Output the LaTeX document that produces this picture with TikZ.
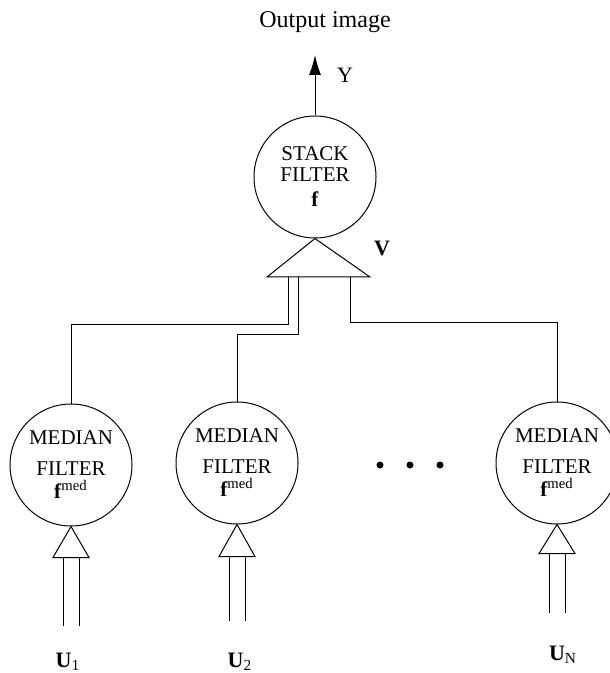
\documentclass[tikz,border=0pt]{standalone}
\usepackage{fontspec}
\setmainfont{Liberation Serif}
\usetikzlibrary{arrows.meta}
\begin{document}
\begin{tikzpicture}[x=0.5pt,y=-0.5pt,line width=0.5pt,font=\fontsize{11}{13}\selectfont]
        \tikzstyle{every node}+=[inner sep=0pt]
        \tikzstyle{filt}=[draw,circle,minimum size=61pt,align=center,font=\fontsize{10.5}{10.5}\selectfont]
        \useasboundingbox (0,0) rectangle (609,673);
        % stack filter and output
        \draw (325,22) node (title) {\fontsize{12}{14}\selectfont Output image};
        \draw (315,177) node [filt] (stack) {STACK\\FILTER\\[2pt]\textbf{f}};
        \coordinate (out) at (315,55);
        \draw [-{Latex[length=10pt,width=6pt]}] (stack.north) -- (out);
        \draw (345,75) node {Y};
        \coordinate (vl) at (267,277);
        \coordinate (vr) at (370,277);
        \draw (stack.south) -- (vr) -- (vl) -- cycle;
        \draw (382,248) node {\textbf{V}};
        % median filters
        \draw (71,465) node [filt] (med1) {MEDIAN\\[5pt]FILTER\\[1pt]\textbf{f}\textsuperscript{med}};
        \draw (237,463) node [filt] (med2) {MEDIAN\\[5pt]FILTER\\[1pt]\textbf{f}\textsuperscript{med}};
        \draw (557,463) node [filt] (medN) {MEDIAN\\[5pt]FILTER\\[1pt]\textbf{f}\textsuperscript{med}};
        \fill (380,465) circle (3.5);
        \fill (410,465) circle (3.5);
        \fill (440,465) circle (3.5);
        % branches into V
        \coordinate (b1) at (288,277);
        \coordinate (b2) at (298,277);
        \coordinate (b3) at (350,277);
        \coordinate (k1) at (288,324);
        \coordinate (k2) at (298,334);
        \coordinate (k3) at (350,322);
        \draw (b1) -- (k1) -| (med1.north);
        \draw (b2) -- (k2) -| (med2.north);
        \draw (b3) -- (k3) -| (medN.north);
        % inputs
        \draw (med1.south) -- ++(18,31) -- ++(-36,0) -- cycle;
        \draw ([shift={(-8,31)}]med1.south) -- ++(0,68);
        \draw ([shift={(8,31)}]med1.south) -- ++(0,68);
        \draw (med2.south) -- ++(18,32) -- ++(-36,0) -- cycle;
        \draw ([shift={(-8,32)}]med2.south) -- ++(0,64);
        \draw ([shift={(8,32)}]med2.south) -- ++(0,64);
        \draw (medN.south) -- ++(18,29) -- ++(-36,0) -- cycle;
        \draw ([shift={(-8,29)}]medN.south) -- ++(0,59);
        \draw ([shift={(8,29)}]medN.south) -- ++(0,59);
        \draw (68,662) node {\textbf{U}\textsubscript{1}};
        \draw (240,662) node {\textbf{U}\textsubscript{2}};
        \draw (563,655) node {\textbf{U}\textsubscript{N}};
\end{tikzpicture}
\end{document}
